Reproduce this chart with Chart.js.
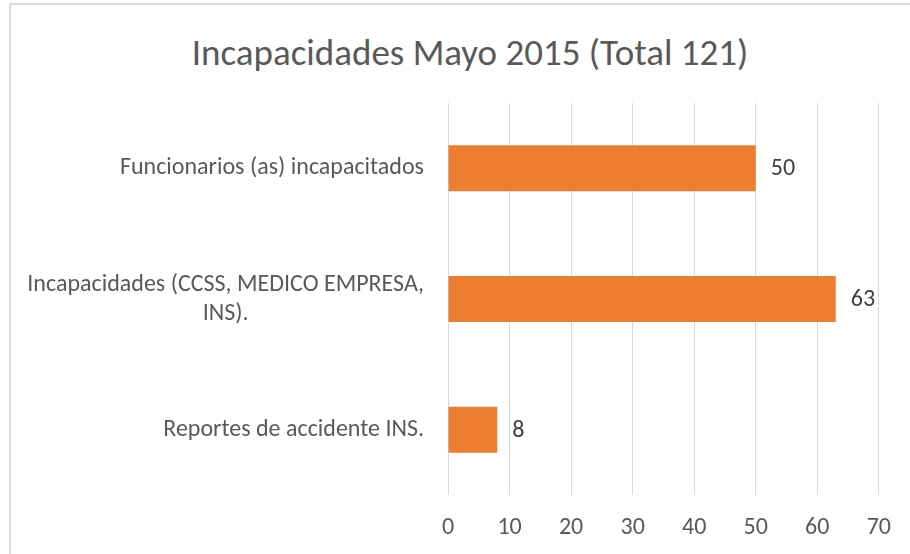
<!DOCTYPE html>
<html>
<head>
<meta charset="utf-8">
<script src="https://cdn.jsdelivr.net/npm/chart.js@4"></script>
<style>
  html, body { margin: 0; padding: 0; background: #fff; overflow: hidden; }
  #wrap { position: relative; width: 910px; height: 554px; }
  #frame { position: absolute; left: 9px; top: 3px; width: 960px; height: 600px;
           border: 2px solid #dcdcdc; box-sizing: border-box; }
  #title { position: absolute; left: 0; width: 940px; top: 30px; text-align: center;
           font-family: Carlito, Calibri, Lato, "Open Sans", sans-serif; font-size: 37px;
           color: #595959; line-height: 46px; }
  canvas { position: absolute; left: 0; top: 0; }
</style>
</head>
<body>
<div id="wrap">
  <div id="frame"></div>
  <div id="title">Incapacidades Mayo 2015 (Total 121)</div>
  <canvas id="chart" width="910" height="554"></canvas>
</div>
<script>
// datos
const categories = [
    'Funcionarios (as) incapacitados',
    ['Incapacidades (CCSS, MEDICO EMPRESA,', 'INS).'],
    'Reportes de accidente INS.'
];
const values = [50, 63, 8];
const xMin = 0;
const xMax = 70;
const xStep = 10;

const FONT = 'Carlito, Calibri, Lato, "Open Sans", sans-serif';
const LABEL_SIZE = 24;

// etiquetas de categoria: bloque alineado a la derecha, lineas centradas entre si
const categoryLabels = {
    id: 'categoryLabels',
    afterDraw(chart) {
        const { ctx, chartArea, scales: { y } } = chart;
        ctx.save();
        ctx.font = LABEL_SIZE + 'px ' + FONT;
        ctx.fillStyle = '#595959';
        ctx.textAlign = 'center';
        ctx.textBaseline = 'middle';
        const lineH = 29;
        categories.forEach((label, i) => {
            const lines = Array.isArray(label) ? label : [label];
            const blockW = Math.max(...lines.map(l => ctx.measureText(l).width));
            const cx = chartArea.left - 24 - blockW / 2;
            const cy = y.getPixelForTick(i);
            lines.forEach((l, j) => {
                ctx.fillText(l, cx, cy + (j - (lines.length - 1) / 2) * lineH);
            });
        });
        ctx.restore();
    }
};

// valores al final de cada barra
const valueLabels = {
    id: 'valueLabels',
    afterDatasetsDraw(chart) {
        const { ctx } = chart;
        const meta = chart.getDatasetMeta(0);
        ctx.save();
        ctx.font = LABEL_SIZE + 'px ' + FONT;
        ctx.fillStyle = '#404040';
        ctx.textAlign = 'left';
        ctx.textBaseline = 'middle';
        meta.data.forEach((bar, i) => {
            ctx.fillText(String(values[i]), bar.x + 15, bar.y + 1);
        });
        ctx.restore();
    }
};

new Chart(document.getElementById('chart').getContext('2d'), {
    type: 'bar',
    data: {
        labels: categories,
        datasets: [{
            data: values,
            backgroundColor: '#ED7D31',
            barPercentage: 0.352,
            categoryPercentage: 1
        }]
    },
    options: {
        indexAxis: 'y',
        responsive: false,
        animation: false,
        layout: { padding: { top: 103, right: 30, bottom: 0, left: 0 } },
        scales: {
            x: {
                min: xMin,
                max: xMax,
                grid: { color: '#d9d9d9', lineWidth: 1, drawTicks: false },
                border: { display: false },
                ticks: {
                    stepSize: xStep,
                    padding: 19,
                    color: '#595959',
                    font: { family: FONT, size: LABEL_SIZE }
                },
                afterFit: (scale) => { scale.height = 59; }
            },
            y: {
                grid: { display: false },
                border: { display: false },
                ticks: { display: false },
                afterFit: (scale) => { scale.width = 448; }
            }
        },
        plugins: {
            legend: { display: false },
            tooltip: { enabled: false },
            title: { display: false }
        }
    },
    plugins: [categoryLabels, valueLabels]
});
</script>
</body>
</html>
